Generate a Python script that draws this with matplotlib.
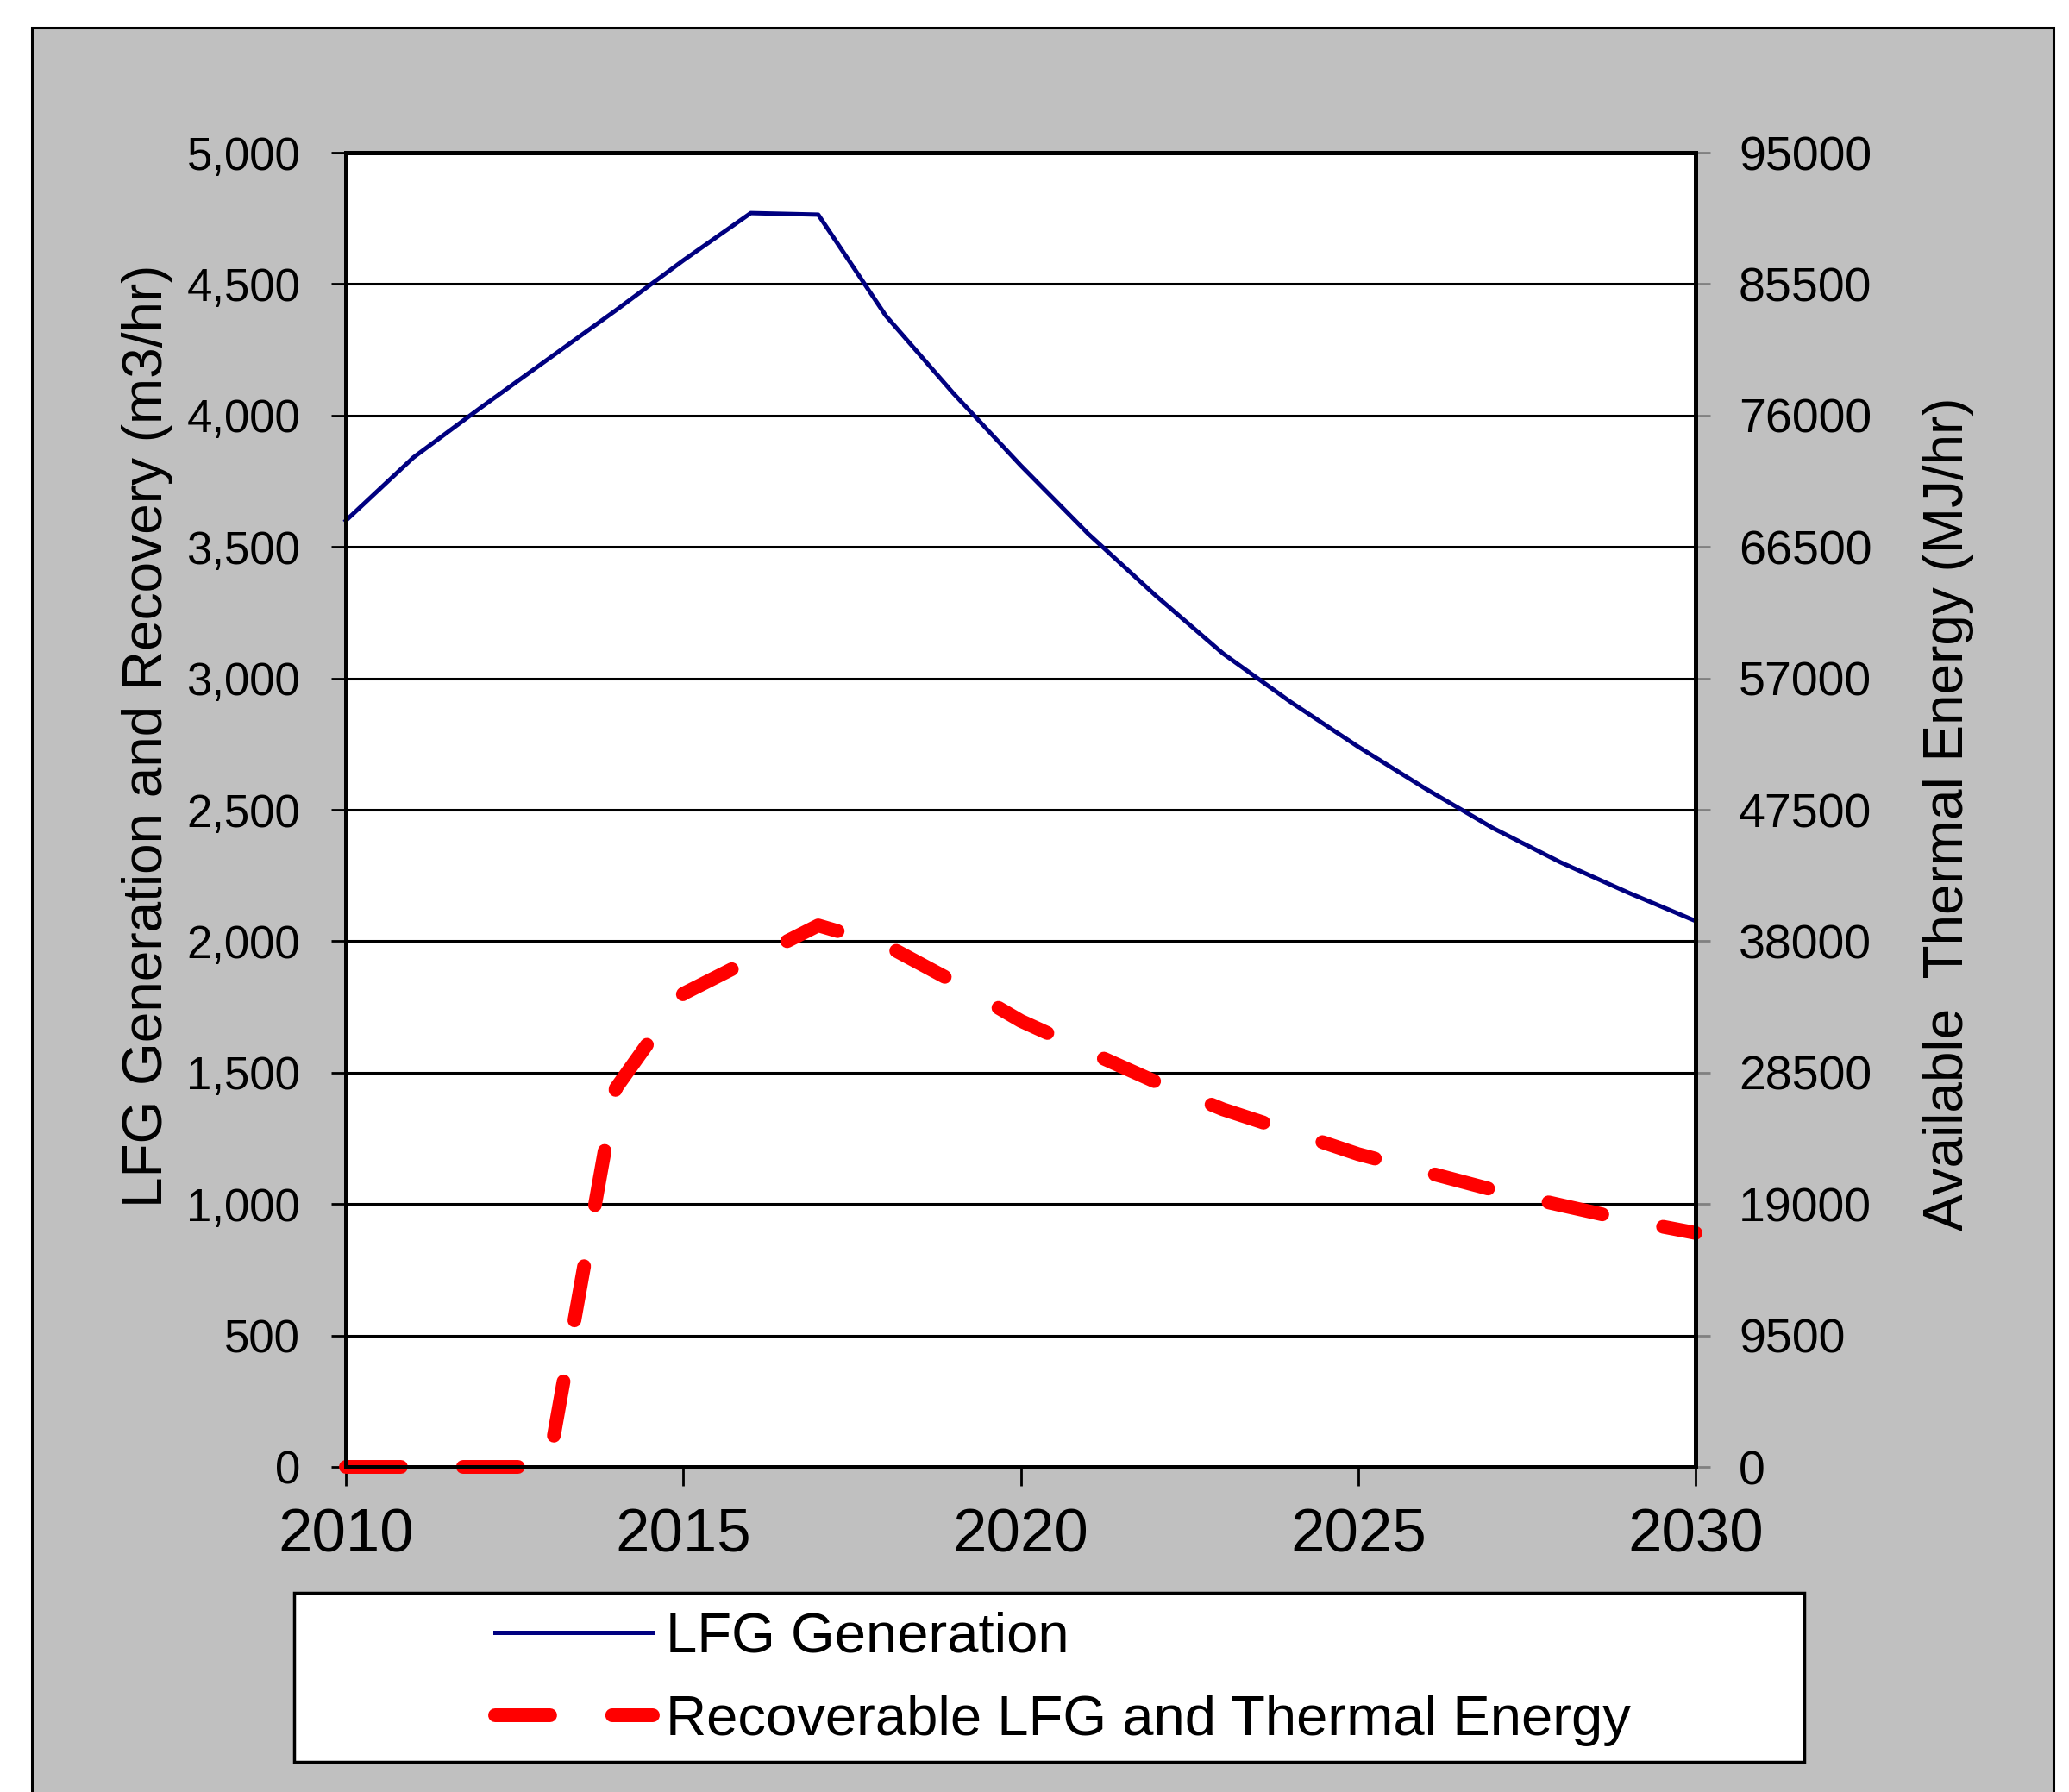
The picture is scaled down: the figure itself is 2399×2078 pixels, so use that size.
import matplotlib
matplotlib.use("Agg")
import matplotlib.pyplot as plt
from matplotlib.patches import Rectangle
from matplotlib.ticker import MultipleLocator, StrMethodFormatter

years = list(range(2010, 2031))
lfg_generation = [3600, 3840, 4030, 4215, 4400, 4590, 4770, 4764, 4380, 4085,
                  3810, 3550, 3315, 3094, 2910, 2740, 2580, 2430, 2300, 2185, 2077]
recoverable = [0, 0, 0, 0, 1440, 1800, 1930, 2060, 1985, 1847,
               1697, 1580, 1465, 1360, 1276, 1190, 1122, 1054, 996, 939, 890]

left_label = "LFG Generation and Recovery (m3/hr)"
right_label = "Available  Thermal Energy (MJ/hr)"
legend_labels = ["LFG Generation", "Recoverable LFG and Thermal Energy"]

W, H = 2399, 2078
plt.rcParams['font.family'] = ['Liberation Sans', 'DejaVu Sans']

fig = plt.figure(figsize=(W / 100, H / 100), dpi=100)
fig.patch.set_facecolor('white')

# grey chart area
fig.add_artist(Rectangle((37 / W, -0.05), (2381 - 37) / W, 1 - 32 / H + 0.05,
                         transform=fig.transFigure, fc='#c0c0c0', ec='black',
                         lw=2.2, zorder=-10))

ax = fig.add_axes([401 / W, 1 - 1701 / H, (1966 - 401) / W, (1701 - 177) / H])
ax.set_facecolor('white')
ax2 = ax.twinx()

l1, = ax.plot(years, lfg_generation, color='#000080', lw=3.6, zorder=3,
              clip_on=False)
l2, = ax.plot(years, recoverable, color='#ff0000', lw=11.5, zorder=4,
              dashes=(4, 4.5), dash_capstyle='round', clip_on=False)

ax.set_xlim(2010, 2030)
ax.set_ylim(0, 5000)
ax2.set_ylim(0, 95000)
ax.xaxis.set_major_locator(MultipleLocator(5))
ax.yaxis.set_major_locator(MultipleLocator(500))
ax2.yaxis.set_major_locator(MultipleLocator(9500))
ax.yaxis.set_major_formatter(StrMethodFormatter('{x:,.0f}'))
ax2.yaxis.set_major_formatter(StrMethodFormatter('{x:.0f}'))

ax.yaxis.grid(True, color='black', lw=2.2)
ax.set_axisbelow(True)
for a in (ax, ax2):
    for s in a.spines.values():
        s.set_linewidth(3.6)
        s.set_color('black')

ax.tick_params(axis='y', direction='out', length=12, width=2, color='black',
               pad=26, labelsize=38)
ax.tick_params(axis='x', direction='out', length=16, width=2, color='black',
               pad=18, labelsize=51)
ax2.tick_params(axis='y', direction='out', length=12, width=2, color='#808080',
                pad=24, labelsize=40)

ax.set_ylabel(left_label, fontsize=46)
ax.yaxis.set_label_coords(-0.128, 0.556)
ax2.set_ylabel(right_label, fontsize=46)
ax2.yaxis.set_label_coords(1.168, 0.497)

# legend box
fig.add_artist(Rectangle((341 / W, 1 - 2043 / H), (2092 - 341) / W, (2043 - 1847) / H,
                         transform=fig.transFigure, fc='white', ec='black',
                         lw=2.5, zorder=1))
leg = fig.legend([l1, l2], legend_labels, loc='center left',
                 bbox_to_anchor=(574 / W, 1 - 1947 / H), frameon=False,
                 borderpad=0, borderaxespad=0, handlelength=2.8,
                 handletextpad=0.23, labelspacing=0.56, fontsize=47)
leg.set_zorder(5)

fig.savefig("out.png", dpi=100)
